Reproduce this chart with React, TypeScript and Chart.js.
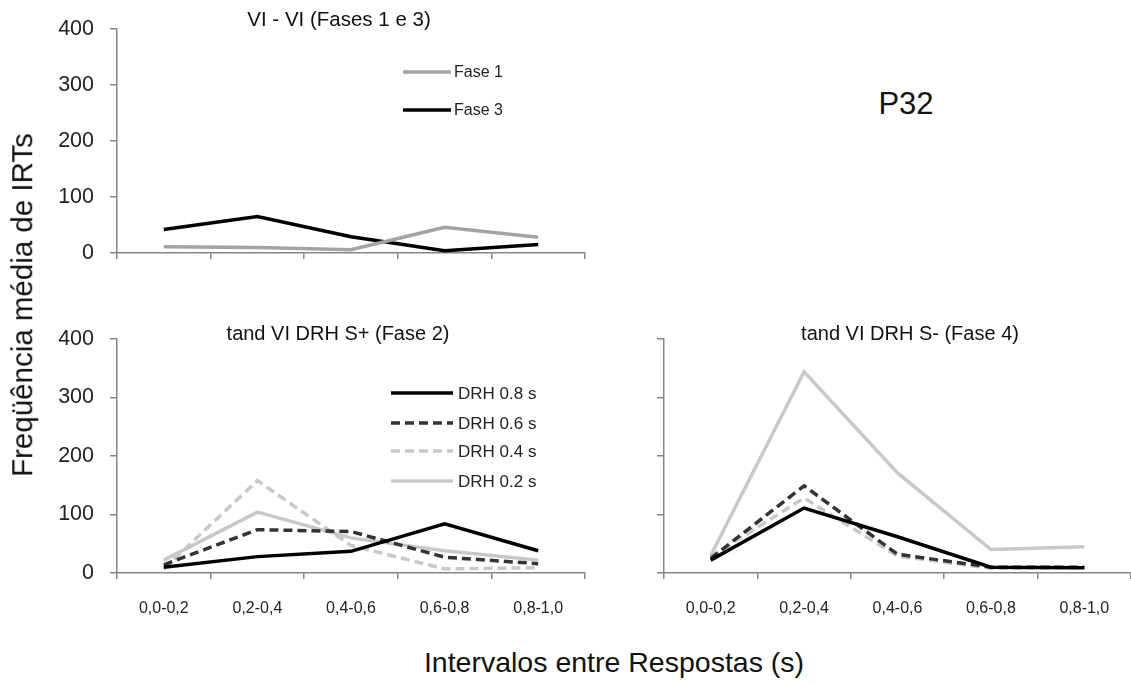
import React, { useEffect, useRef } from "react";
import { Chart, registerables } from "chart.js";

Chart.register(...registerables);

// ---- data ----
const categories = ["0,0-0,2", "0,2-0,4", "0,4-0,6", "0,6-0,8", "0,8-1,0"];
const yTickValues = [0, 100, 200, 300, 400];

const topLabels = ["Fase 1", "Fase 3"];
const fase1 = [11, 10, 6, 46, 28];
const fase3 = [42, 65, 29, 4, 15];

const drhLabels = ["DRH 0.8 s", "DRH 0.6 s", "DRH 0.4 s", "DRH 0.2 s"];
const splusDRH08 = [10, 28, 37, 84, 38];
const splusDRH06 = [14, 74, 71, 27, 16];
const splusDRH04 = [7, 158, 47, 7, 9];
const splusDRH02 = [22, 104, 60, 38, 22];

const sminusDRH08 = [22, 111, 62, 10, 9];
const sminusDRH06 = [25, 149, 32, 10, 10];
const sminusDRH04 = [28, 128, 29, 8, 9];
const sminusDRH02 = [30, 344, 171, 40, 45];

const titleTop = "VI - VI (Fases 1 e 3)";
const titleSplus = "tand VI DRH S+ (Fase 2)";
const titleSminus = "tand VI DRH S- (Fase 4)";
const participant = "P32";
const xTitle = "Intervalos entre Respostas (s)";
const yTitle = "Freqüência média de IRTs";

// ---- styles ----
const FONT = "'Liberation Sans', Arial, Helvetica, sans-serif";
const AXIS = "#858585";

const decoPlugin = {
  id: "deco",
  afterDraw(chart: any, _args: any, opts: any) {
    const ctx = chart.ctx;
    ctx.save();
    if (opts.title) {
      ctx.font = `${opts.titleSize}px ${FONT}`;
      ctx.fillStyle = "#111";
      ctx.textAlign = "center";
      ctx.textBaseline = "middle";
      ctx.fillText(opts.title, opts.titleX, opts.titleY);
    }
    if (opts.legend) {
      const L = opts.legend;
      chart.data.datasets.forEach((ds: any, i: number) => {
        const y = L.rows[i];
        ctx.beginPath();
        ctx.strokeStyle = ds.borderColor;
        ctx.lineWidth = ds.borderWidth;
        ctx.setLineDash(ds.borderDash || []);
        ctx.moveTo(L.x0, y);
        ctx.lineTo(L.x1, y);
        ctx.stroke();
        ctx.setLineDash([]);
        ctx.font = `${L.size}px ${FONT}`;
        ctx.fillStyle = "#222";
        ctx.textAlign = "left";
        ctx.textBaseline = "middle";
        ctx.fillText(ds.label, L.tx, y + 1);
      });
    }
    ctx.restore();
  },
};

function ds(label: string, data: number[], color: string, dash: number[] | undefined, width = 3.5) {
  return {
    label,
    data,
    borderColor: color,
    backgroundColor: color,
    borderWidth: width,
    borderDash: dash,
    pointRadius: 0,
    tension: 0,
    fill: false,
  };
}

function makeConfig(datasets: any[], o: any) {
  return {
    type: "line",
    data: { labels: categories, datasets },
    plugins: [decoPlugin],
    options: {
      responsive: false,
      animation: false,
      layout: { padding: { top: o.padTop, right: o.padRight, left: 0, bottom: 0 } },
      plugins: {
        legend: { display: false },
        tooltip: { enabled: false },
        title: { display: false },
        deco: o.deco,
      },
      scales: {
        x: {
          type: "category",
          offset: true,
          grid: { offset: true, drawOnChartArea: false, drawTicks: true, tickLength: 6, color: AXIS, lineWidth: 1.5 },
          border: { color: AXIS, width: 1.5 },
          ticks: {
            display: o.xLabels,
            font: { family: FONT, size: 16 },
            color: "#222",
            padding: 20,
            maxRotation: 0,
            autoSkip: false,
          },
          afterFit: (s: any) => {
            s.height = o.xHeight;
          },
        },
        y: {
          min: 0,
          max: 400,
          afterBuildTicks: (s: any) => {
            s.ticks = yTickValues.map((v) => ({ value: v }));
          },
          grid: { drawOnChartArea: false, drawTicks: true, tickLength: 7, color: AXIS, lineWidth: 1.5 },
          border: { color: AXIS, width: 1.5 },
          ticks: {
            display: o.yLabels,
            font: { family: FONT, size: 21.5 },
            color: "#222",
            padding: 16,
          },
          afterFit: (s: any) => {
            s.width = o.yWidth;
          },
        },
      },
    },
  };
}

function ChartBox(props: { left: number; top: number; width: number; height: number; config: () => any }) {
  const ref = useRef<HTMLCanvasElement | null>(null);
  useEffect(() => {
    if (!ref.current) return;
    const chart = new Chart(ref.current, props.config() as any);
    return () => chart.destroy();
  }, []);
  return (
    <canvas
      ref={ref}
      width={props.width}
      height={props.height}
      style={{ position: "absolute", left: props.left, top: props.top, width: props.width, height: props.height }}
    />
  );
}

export default function App() {
  const topCfg = () =>
    makeConfig(
      [ds(topLabels[0], fase1, "#a3a3a3", undefined), ds(topLabels[1], fase3, "#000000", undefined)],
      {
        padTop: 18,
        padRight: 15,
        xHeight: 37,
        yWidth: 117,
        xLabels: false,
        yLabels: true,
        deco: {
          title: titleTop,
          titleSize: 20.5,
          titleX: 339,
          titleY: 20,
          legend: { x0: 403, x1: 451, tx: 454, rows: [72, 110], size: 16 },
        },
      }
    );

  const splusCfg = () =>
    makeConfig(
      [
        ds(drhLabels[0], splusDRH08, "#000000", undefined),
        ds(drhLabels[1], splusDRH06, "#333333", [9, 5]),
        ds(drhLabels[2], splusDRH04, "#c8c8c8", [9, 5]),
        ds(drhLabels[3], splusDRH02, "#c8c8c8", undefined),
      ],
      {
        padTop: 39,
        padRight: 15,
        xHeight: 57,
        yWidth: 117,
        xLabels: true,
        yLabels: true,
        deco: {
          title: titleSplus,
          titleSize: 20,
          titleX: 338,
          titleY: 34,
          legend: { x0: 391, x1: 453, tx: 458, rows: [93, 123, 151, 181], size: 17 },
        },
      }
    );

  const sminusCfg = () =>
    makeConfig(
      [
        ds(drhLabels[0], sminusDRH08, "#000000", undefined),
        ds(drhLabels[1], sminusDRH06, "#333333", [9, 5]),
        ds(drhLabels[2], sminusDRH04, "#c8c8c8", [9, 5]),
        ds(drhLabels[3], sminusDRH02, "#c8c8c8", undefined),
      ],
      {
        padTop: 39,
        padRight: 0,
        xHeight: 57,
        yWidth: 64,
        xLabels: true,
        yLabels: false,
        deco: {
          title: titleSminus,
          titleSize: 20,
          titleX: 310,
          titleY: 34,
        },
      }
    );

  return (
    <div
      style={{
        position: "absolute",
        left: 0,
        top: 0,
        width: 1131,
        height: 685,
        background: "#fff",
        overflow: "hidden",
        fontFamily: FONT,
      }}
    >
      <ChartBox left={0} top={0} width={600} height={290} config={topCfg} />
      <ChartBox left={0} top={300} width={600} height={330} config={splusCfg} />
      <ChartBox left={600} top={300} width={531} height={330} config={sminusCfg} />
      <div
        style={{
          position: "absolute",
          left: 906,
          top: 103,
          transform: "translate(-50%, -50%)",
          fontSize: 31,
          color: "#111",
          whiteSpace: "nowrap",
          lineHeight: 1,
        }}
      >
        {participant}
      </div>
      <div
        style={{
          position: "absolute",
          left: 614,
          top: 662,
          transform: "translate(-50%, -50%)",
          fontSize: 28.5,
          color: "#111",
          whiteSpace: "nowrap",
          lineHeight: 1,
        }}
      >
        {xTitle}
      </div>
      <div
        style={{
          position: "absolute",
          left: 22,
          top: 305,
          transform: "translate(-50%, -50%) rotate(-90deg)",
          fontSize: 29.5,
          color: "#111",
          whiteSpace: "nowrap",
          lineHeight: 1,
        }}
      >
        {yTitle}
      </div>
    </div>
  );
}
